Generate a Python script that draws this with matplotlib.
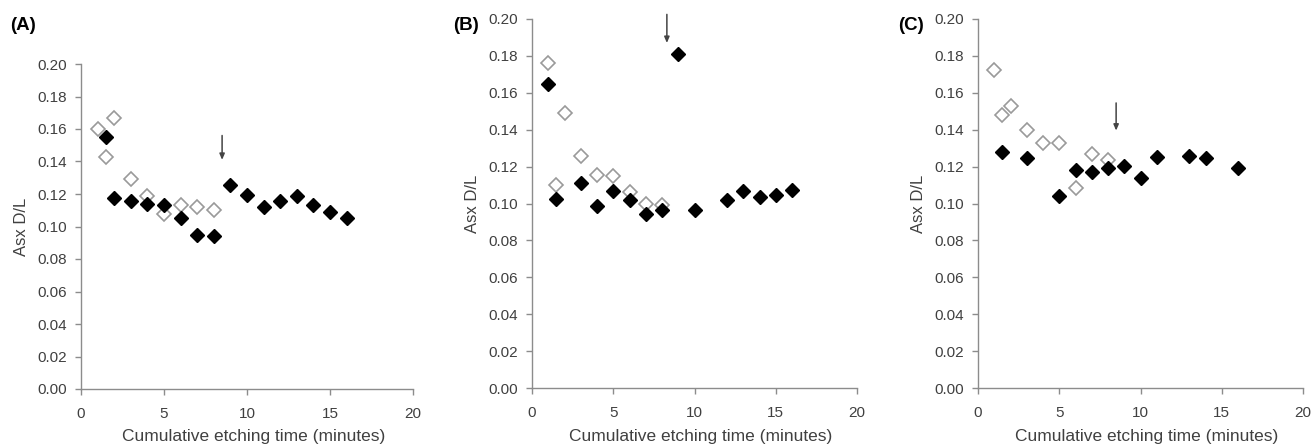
import matplotlib.pyplot as plt

plt.rcParams["font.family"] = ["Liberation Sans", "DejaVu Sans"]

# --- data ---
a_open_x = [1, 1.5, 2, 3, 4, 5, 6, 7, 8]
a_open_y = [0.160, 0.143, 0.167, 0.129, 0.119, 0.108, 0.113, 0.112, 0.110]
a_fill_x = [1.5, 2, 3, 4, 5, 6, 7, 8, 9, 10, 11, 12, 13, 14, 15, 16]
a_fill_y = [0.155, 0.1175, 0.1155, 0.114, 0.1135, 0.105, 0.095, 0.094,
            0.1255, 0.1195, 0.112, 0.1155, 0.119, 0.1135, 0.109, 0.105]
a_arrow = (8.5, 0.156, 0.141)

b_open_x = [1, 1.5, 2, 3, 4, 5, 6, 7, 8]
b_open_y = [0.176, 0.110, 0.149, 0.126, 0.1155, 0.115, 0.1065, 0.0995, 0.099]
b_fill_x = [1, 1.5, 3, 4, 5, 6, 7, 8, 9, 10, 12, 13, 14, 15, 16]
b_fill_y = [0.165, 0.1025, 0.111, 0.0985, 0.107, 0.102, 0.0945, 0.0965,
            0.181, 0.0965, 0.102, 0.107, 0.1035, 0.1045, 0.1075]
b_arrow = (8.3, 0.2025, 0.187)

c_open_x = [1, 1.5, 2, 3, 4, 5, 6, 7, 8]
c_open_y = [0.1725, 0.148, 0.153, 0.140, 0.133, 0.133, 0.1085, 0.127, 0.1235]
c_fill_x = [1.5, 3, 5, 6, 7, 8, 9, 10, 11, 13, 14, 16]
c_fill_y = [0.128, 0.1245, 0.104, 0.118, 0.117, 0.119, 0.1205, 0.114,
            0.125, 0.126, 0.1245, 0.119]
c_arrow = (8.5, 0.1545, 0.1395)

panels = [
    ("(A)", a_open_x, a_open_y, a_fill_x, a_fill_y, a_arrow),
    ("(B)", b_open_x, b_open_y, b_fill_x, b_fill_y, b_arrow),
    ("(C)", c_open_x, c_open_y, c_fill_x, c_fill_y, c_arrow),
]

W, H = 1313, 446
boxes = [(81, 64, 413, 389), (532, 19, 857, 388), (978, 19, 1303, 388)]
label_pos = [(10, 25), (453, 26), (898, 26)]
XLABEL_Y = 437  # centre of the x-axis title, in pixels from the top

fig = plt.figure(figsize=(W / 100, H / 100), dpi=100)

for (label, ox, oy, fx, fy, arr), (x0, y0, x1, y1), (lx, ly) in zip(panels, boxes, label_pos):
    ax = fig.add_axes([x0 / W, 1 - y1 / H, (x1 - x0) / W, (y1 - y0) / H])
    ax.plot(ox, oy, linestyle="none", marker="D", markersize=7,
            markerfacecolor="white", markeredgecolor="#9a9a9a", markeredgewidth=1.2,
            clip_on=False)
    ax.plot(fx, fy, linestyle="none", marker="D", markersize=7,
            markerfacecolor="black", markeredgecolor="black", clip_on=False)

    ax_x, ytop, ybot = arr
    ax.annotate("", xy=(ax_x, ybot), xytext=(ax_x, ytop),
                arrowprops=dict(arrowstyle="-|>,head_length=0.35,head_width=0.15",
                                color="#444444", lw=1.1, shrinkA=0, shrinkB=0),
                annotation_clip=False)

    ax.set_xlim(0, 20)
    ax.set_ylim(0, 0.20)
    ax.set_xticks([0, 5, 10, 15, 20])
    ax.set_yticks([i / 100 for i in range(0, 21, 2)])
    ax.set_yticklabels([f"{i / 100:.2f}" for i in range(0, 21, 2)])

    for side in ("top", "right"):
        ax.spines[side].set_visible(False)
    for side in ("left", "bottom"):
        ax.spines[side].set_color("#8c8c8c")
        ax.spines[side].set_linewidth(1.0)
    ax.tick_params(direction="out", length=4, width=1, color="#8c8c8c",
                   labelsize=11, labelcolor="#404040")
    ax.tick_params(axis="y", pad=6)
    ax.tick_params(axis="x", pad=9)

    ax.set_xlabel("Cumulative etching time (minutes)", fontsize=12.5, color="#404040",
                  va="center")
    ax.xaxis.set_label_coords(0.52, -(XLABEL_Y - y1) / (y1 - y0))
    ax.set_ylabel("Asx D/L", fontsize=12, color="#404040", labelpad=6)

    fig.text(lx / W, 1 - ly / H, label, fontsize=13.5, fontweight="bold",
             ha="left", va="center")

fig.savefig("out.png", dpi=100)
